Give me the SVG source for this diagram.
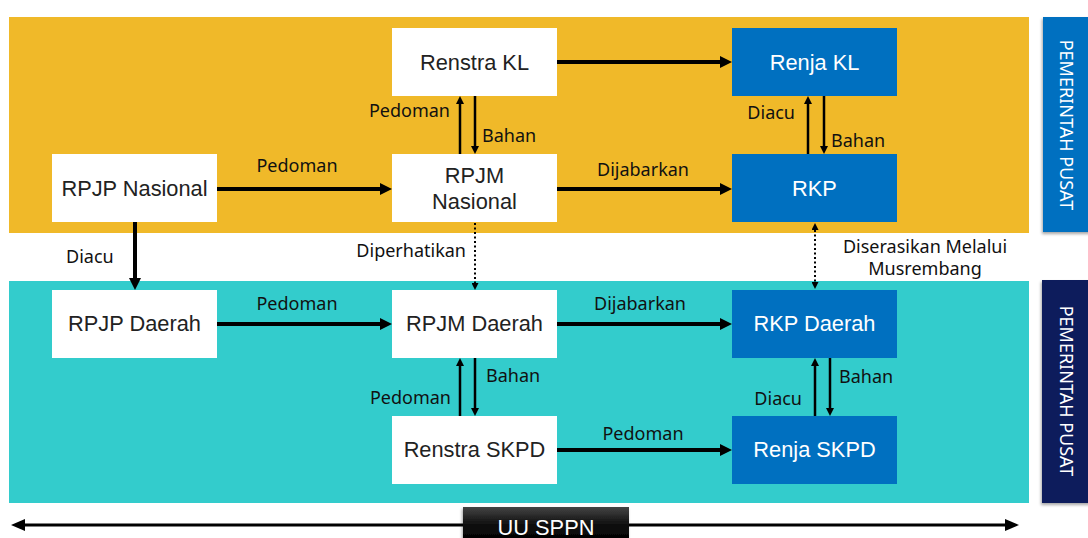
<svg xmlns="http://www.w3.org/2000/svg" width="1088" height="538" viewBox="0 0 1088 538">
  <style>
    .box-w { fill: #ffffff; }
    .box-b { fill: #0070C0; }
    .bt { font-family: "Liberation Sans", Arial, sans-serif; font-size: 21.8px; text-anchor: middle; }
    .bt-w { fill: #222222; }
    .bt-b { fill: #ffffff; }
    .lbl { font-family: "Noto Sans", "Open Sans", sans-serif; font-size: 18px; fill: #111111; }
    .thick { stroke: #000; stroke-width: 4; fill: none; }
    .thin { stroke: #000; stroke-width: 2.5; fill: none; }
    .dot { stroke: #000; stroke-width: 2; stroke-dasharray: 2 2.5; fill: none; }
    .side { font-family: "Noto Sans", "Open Sans", sans-serif; font-size: 18px; fill: #ffffff; text-anchor: middle; }
  </style>
  <defs>
    <marker id="ah" viewBox="0 0 12 12" refX="0" refY="6" markerWidth="12" markerHeight="12" markerUnits="userSpaceOnUse" orient="auto">
      <path d="M0,0 L12,6 L0,12 z" fill="#000"/>
    </marker>
    <marker id="as" viewBox="0 0 8 8" refX="0" refY="4" markerWidth="8" markerHeight="8" markerUnits="userSpaceOnUse" orient="auto">
      <path d="M0,0 L8,4 L0,8 z" fill="#000"/>
    </marker>
    <marker id="ad" viewBox="0 0 7 7" refX="0" refY="3.5" markerWidth="7" markerHeight="7" markerUnits="userSpaceOnUse" orient="auto-start-reverse">
      <path d="M0,0 L7,3.5 L0,7 z" fill="#000"/>
    </marker>
    <marker id="ab" viewBox="0 0 14 12" refX="0" refY="6" markerWidth="14" markerHeight="12" markerUnits="userSpaceOnUse" orient="auto-start-reverse">
      <path d="M0,0 L14,6 L0,12 z" fill="#000"/>
    </marker>
    <linearGradient id="gblack" x1="0" y1="0" x2="0" y2="1">
      <stop offset="0" stop-color="#444444"/>
      <stop offset="0.5" stop-color="#111111"/>
      <stop offset="1" stop-color="#000000"/>
    </linearGradient>
    <filter id="sh" x="-20%" y="-10%" width="140%" height="120%">
      <feDropShadow dx="-1" dy="2" stdDeviation="1.5" flood-color="#000" flood-opacity="0.35"/>
    </filter>
  </defs>

  <!-- bands -->
  <g id="bands">
    <rect x="9" y="17" width="1020" height="216" fill="#F0B929"/>
    <rect x="9" y="281" width="1020" height="222" fill="#33CCCC"/>
  </g>

  <!-- side labels -->
  <g id="label-pusat-top">
    <rect x="1043" y="17" width="50" height="215" fill="#0070C0" filter="url(#sh)"/>
    <text class="side" transform="translate(1060,125) rotate(90)">PEMERINTAH PUSAT</text>
  </g>
  <g id="label-pusat-bottom">
    <rect x="1042" y="280" width="50" height="223" fill="#0C1E5B" filter="url(#sh)"/>
    <text class="side" transform="translate(1060,391) rotate(90)">PEMERINTAH PUSAT</text>
  </g>

  <!-- nodes -->
  <g id="renstra-kl">
    <rect class="box-w" x="392" y="28" width="165" height="68"/>
    <text class="bt bt-w" x="474.5" y="70">Renstra KL</text>
  </g>
  <g id="renja-kl">
    <rect class="box-b" x="732" y="28" width="165" height="68"/>
    <text class="bt bt-b" x="814.5" y="70">Renja KL</text>
  </g>
  <g id="rpjp-nasional">
    <rect class="box-w" x="52" y="154" width="165" height="68"/>
    <text class="bt bt-w" x="134.5" y="196">RPJP Nasional</text>
  </g>
  <g id="rpjm-nasional">
    <rect class="box-w" x="392" y="154" width="165" height="68"/>
    <text class="bt bt-w" x="474.5" y="183">RPJM</text>
    <text class="bt bt-w" x="474.5" y="209">Nasional</text>
  </g>
  <g id="rkp">
    <rect class="box-b" x="732" y="154" width="165" height="68"/>
    <text class="bt bt-b" x="814.5" y="196">RKP</text>
  </g>
  <g id="rpjp-daerah">
    <rect class="box-w" x="52" y="290" width="165" height="68"/>
    <text class="bt bt-w" x="134.5" y="331">RPJP Daerah</text>
  </g>
  <g id="rpjm-daerah">
    <rect class="box-w" x="392" y="290" width="165" height="68"/>
    <text class="bt bt-w" x="474.5" y="331">RPJM Daerah</text>
  </g>
  <g id="rkp-daerah">
    <rect class="box-b" x="732" y="290" width="165" height="68"/>
    <text class="bt bt-b" x="814.5" y="331">RKP Daerah</text>
  </g>
  <g id="renstra-skpd">
    <rect class="box-w" x="392" y="416" width="165" height="68"/>
    <text class="bt bt-w" x="474.5" y="457">Renstra SKPD</text>
  </g>
  <g id="renja-skpd">
    <rect class="box-b" x="732" y="416" width="165" height="68"/>
    <text class="bt bt-b" x="814.5" y="457">Renja SKPD</text>
  </g>

  <!-- connectors -->
  <g id="connectors">
    <line class="thick" x1="557" y1="62" x2="720" y2="62" marker-end="url(#ah)"/>
    <line class="thick" x1="217" y1="189" x2="380" y2="189" marker-end="url(#ah)"/>
    <line class="thick" x1="557" y1="189" x2="720" y2="189" marker-end="url(#ah)"/>
    <line class="thick" x1="217" y1="324" x2="380" y2="324" marker-end="url(#ah)"/>
    <line class="thick" x1="557" y1="324" x2="720" y2="324" marker-end="url(#ah)"/>
    <line class="thick" x1="557" y1="450" x2="720" y2="450" marker-end="url(#ah)"/>
    <line class="thick" x1="135" y1="222" x2="135" y2="278" marker-end="url(#ah)"/>
    <line class="thin" x1="460" y1="154" x2="460" y2="104" marker-end="url(#as)"/>
    <line class="thin" x1="475" y1="96" x2="475" y2="146" marker-end="url(#as)"/>
    <line class="thin" x1="808" y1="154" x2="808" y2="104" marker-end="url(#as)"/>
    <line class="thin" x1="824" y1="96" x2="824" y2="146" marker-end="url(#as)"/>
    <line class="thin" x1="460" y1="416" x2="460" y2="366" marker-end="url(#as)"/>
    <line class="thin" x1="475" y1="358" x2="475" y2="408" marker-end="url(#as)"/>
    <line class="thin" x1="815" y1="416" x2="815" y2="366" marker-end="url(#as)"/>
    <line class="thin" x1="830" y1="358" x2="830" y2="408" marker-end="url(#as)"/>
    <line class="dot" x1="475" y1="223" x2="475" y2="283" marker-end="url(#ad)"/>
    <line class="dot" x1="815" y1="230" x2="815" y2="282" marker-start="url(#ad)" marker-end="url(#ad)"/>
    <line stroke="#000" stroke-width="3" x1="25" y1="525" x2="1005" y2="525" marker-start="url(#ab)" marker-end="url(#ab)"/>
  </g>

  <!-- edge labels -->
  <g id="edge-labels">
    <text class="lbl" x="297" y="172" text-anchor="middle">Pedoman</text>
    <text class="lbl" x="643" y="176" text-anchor="middle">Dijabarkan</text>
    <text class="lbl" x="450" y="117" text-anchor="end">Pedoman</text>
    <text class="lbl" x="482" y="142">Bahan</text>
    <text class="lbl" x="795" y="119" text-anchor="end">Diacu</text>
    <text class="lbl" x="831" y="147">Bahan</text>
    <text class="lbl" x="66" y="263">Diacu</text>
    <text class="lbl" x="466" y="257" text-anchor="end">Diperhatikan</text>
    <text class="lbl" x="925" y="253" text-anchor="middle">Diserasikan Melalui</text>
    <text class="lbl" x="925" y="275" text-anchor="middle">Musrembang</text>
    <text class="lbl" x="297" y="310" text-anchor="middle">Pedoman</text>
    <text class="lbl" x="640" y="310" text-anchor="middle">Dijabarkan</text>
    <text class="lbl" x="486" y="382">Bahan</text>
    <text class="lbl" x="451" y="404" text-anchor="end">Pedoman</text>
    <text class="lbl" x="839" y="383">Bahan</text>
    <text class="lbl" x="802" y="405" text-anchor="end">Diacu</text>
    <text class="lbl" x="643" y="440" text-anchor="middle">Pedoman</text>
  </g>

  <!-- UU SPPN -->
  <g id="uu-sppn">
    <rect x="463" y="507" width="166" height="34" fill="url(#gblack)" filter="url(#sh)"/>
    <text class="bt" x="546" y="535" fill="#ffffff">UU SPPN</text>
  </g>
</svg>
